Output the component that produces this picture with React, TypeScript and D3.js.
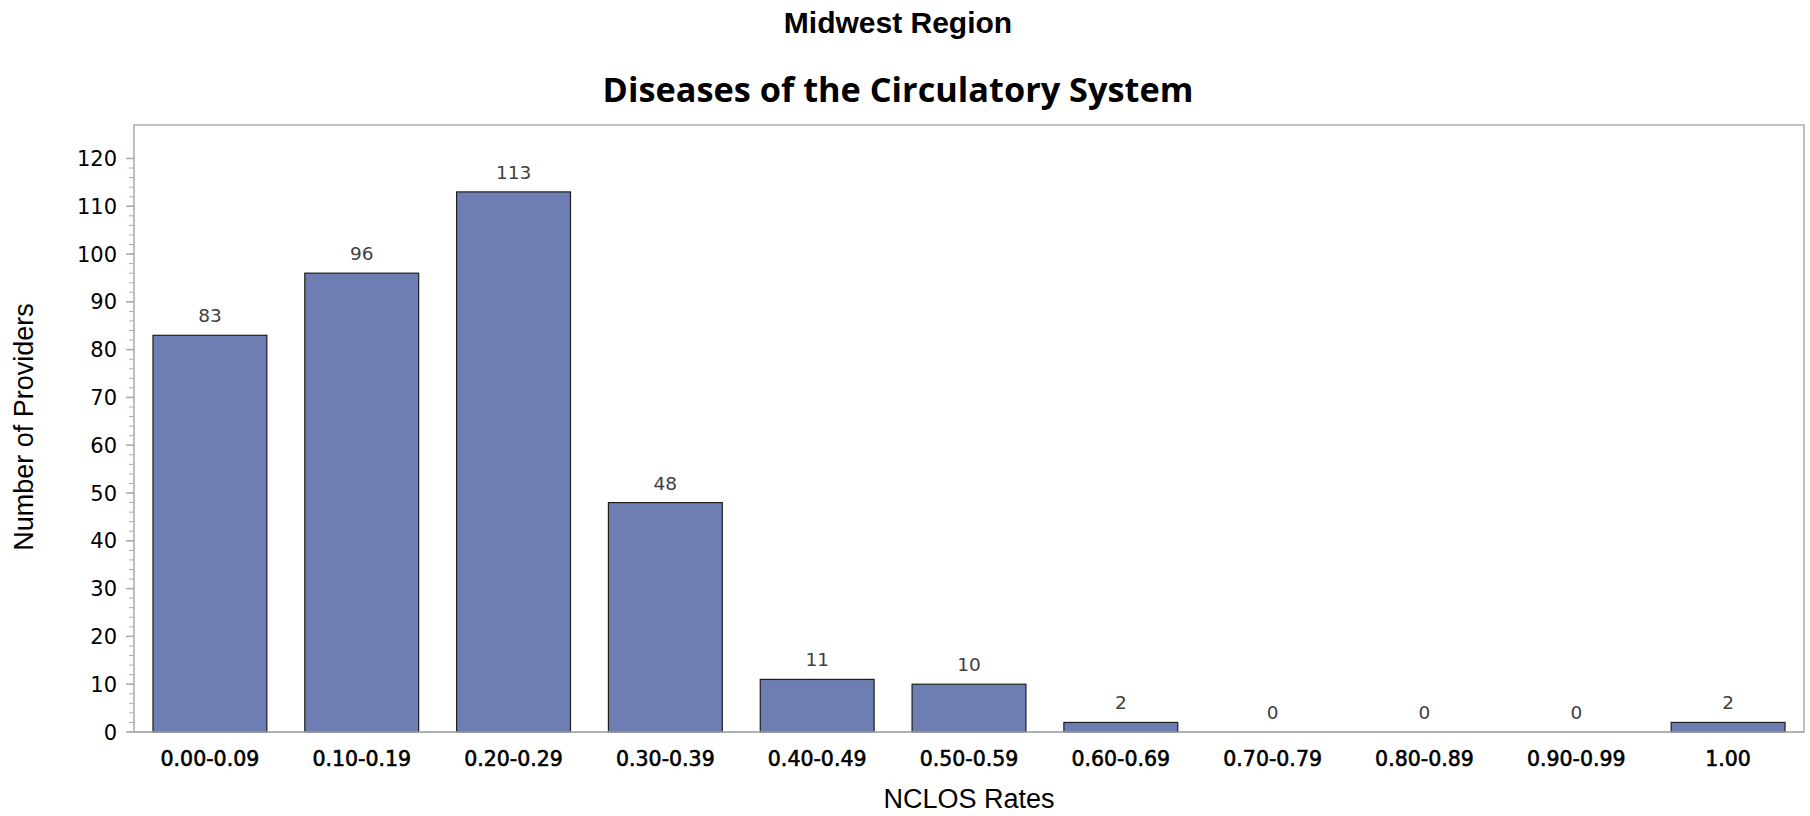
import React from "react";
import * as d3 from "d3";

const categories = [
  "0.00-0.09",
  "0.10-0.19",
  "0.20-0.29",
  "0.30-0.39",
  "0.40-0.49",
  "0.50-0.59",
  "0.60-0.69",
  "0.70-0.79",
  "0.80-0.89",
  "0.90-0.99",
  "1.00",
];
const counts = [83, 96, 113, 48, 11, 10, 2, 0, 0, 0, 2];
const yTicks = [0, 10, 20, 30, 40, 50, 60, 70, 80, 90, 100, 110, 120];
const yMinorTicks = d3.range(0, 121, 2);

const title1 = "Midwest Region";
const title2 = "Diseases of the Circulatory System";
const xTitle = "NCLOS Rates";
const yTitle = "Number of Providers";

const W = 1810;
const H = 816;
const left = 134;
const right = 1804;
const top = 125;
const bottom = 732;

export default function App() {
  const x = d3
    .scaleBand<string>()
    .domain(categories)
    .range([left, right])
    .paddingInner(0.25)
    .paddingOuter(0.125);
  const y = d3.scaleLinear().domain([0, 127]).range([bottom, top]);
  const axisColor = "#a8acb0";

  return (
    <svg
      width={W}
      height={H}
      style={{ position: "absolute", left: 0, top: 0, background: "#fff" }}
    >
      <text
        x={898}
        y={32.5}
        textAnchor="middle"
        fontFamily="'Liberation Sans', Arial, sans-serif"
        fontWeight="bold"
        fontSize={30}
        fill="#000"
      >
        {title1}
      </text>
      <text
        x={898}
        y={102}
        textAnchor="middle"
        fontFamily="'Open Sans', sans-serif"
        fontWeight="bold"
        fontSize={34.3}
        fill="#000"
      >
        {title2}
      </text>

      {/* frame */}
      <rect
        x={left}
        y={top}
        width={right - left}
        height={bottom - top}
        fill="none"
        stroke={axisColor}
        strokeWidth={1.5}
      />

      {/* y minor ticks */}
      {yMinorTicks.map((t) => (
        <line
          key={"m" + t}
          x1={left - 5}
          x2={left}
          y1={y(t)}
          y2={y(t)}
          stroke={axisColor}
          strokeWidth={1}
        />
      ))}
      {/* y major ticks */}
      {yTicks.map((t) => (
        <g key={"t" + t}>
          <line
            x1={left - 8}
            x2={left}
            y1={y(t)}
            y2={y(t)}
            stroke={axisColor}
            strokeWidth={1.5}
          />
          <text
            x={117}
            y={y(t)}
            dy="0.364em"
            textAnchor="end"
            fontFamily="'DejaVu Sans', sans-serif"
            fontSize={21}
            fill="#000"
          >
            {t}
          </text>
        </g>
      ))}

      {/* bars */}
      {categories.map((c, i) => {
        const v = counts[i];
        const bx = x(c)!;
        const bw = x.bandwidth();
        return (
          <g key={c}>
            {v > 0 && (
              <rect
                x={bx}
                y={y(v)}
                width={bw}
                height={y(0) - y(v)}
                fill="#6e7eb2"
                stroke="#1e1e1e"
                strokeWidth={1.2}
              />
            )}
            <text
              x={bx + bw / 2}
              y={y(v) - 13}
              textAnchor="middle"
              fontFamily="'DejaVu Sans', sans-serif"
              fontSize={18.5}
              fill="#404040"
            >
              {v}
            </text>
            <text
              x={bx + bw / 2}
              y={765.7}
              textAnchor="middle"
              fontFamily="'DejaVu Sans', sans-serif"
              fontSize={20.5}
              fill="#000"
              stroke="#000"
              strokeWidth={0.6}
            >
              {c}
            </text>
          </g>
        );
      })}

      {/* bottom axis line on top of bars */}
      <line
        x1={left}
        x2={right}
        y1={bottom}
        y2={bottom}
        stroke={axisColor}
        strokeWidth={1.5}
      />

      <text
        x={(left + right) / 2}
        y={808}
        textAnchor="middle"
        fontFamily="'Liberation Sans', Arial, sans-serif"
        fontSize={27}
        fill="#000"
      >
        {xTitle}
      </text>
      <text
        transform={`translate(33,427) rotate(-90)`}
        textAnchor="middle"
        fontFamily="'Liberation Sans', Arial, sans-serif"
        fontSize={27}
        fill="#000"
      >
        {yTitle}
      </text>
    </svg>
  );
}
